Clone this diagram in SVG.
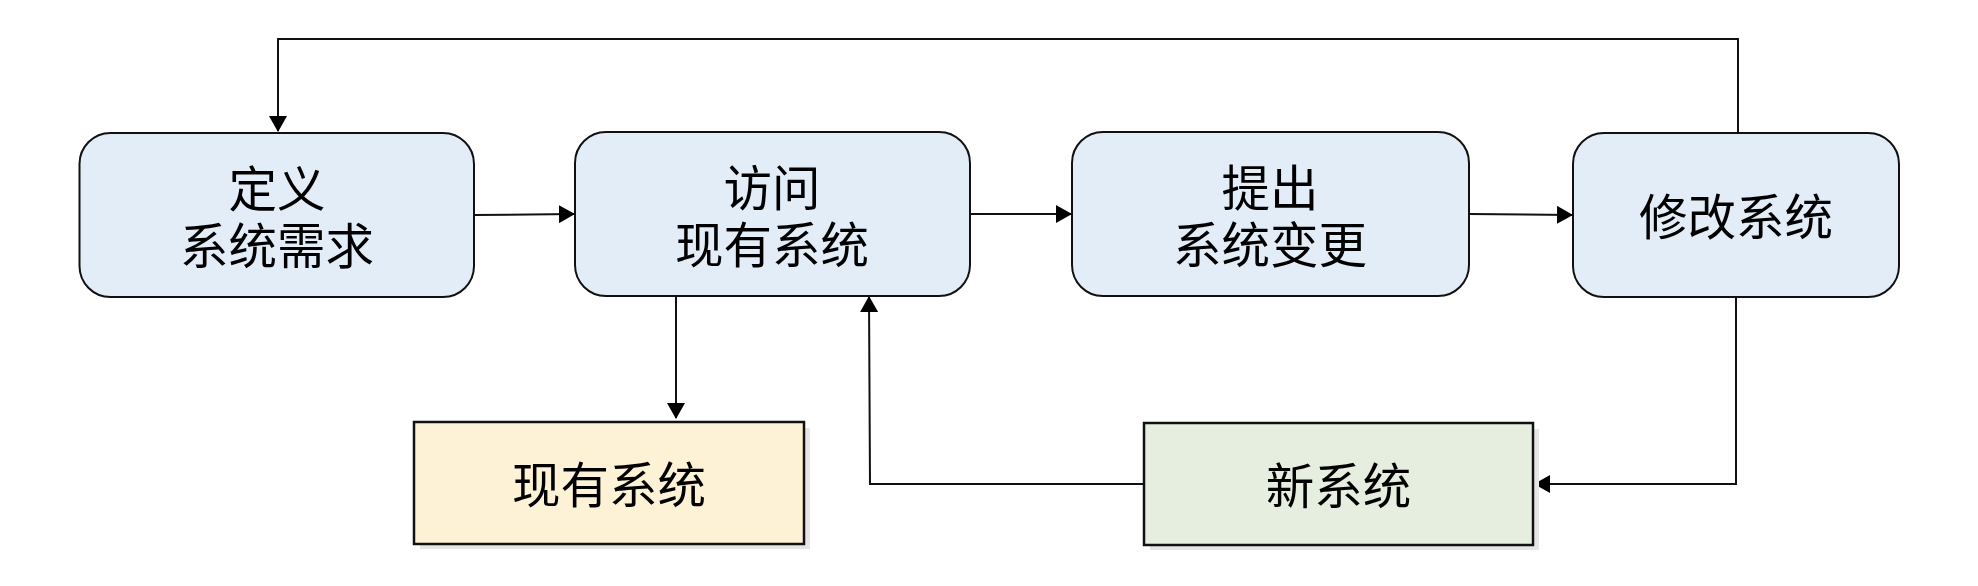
<svg xmlns="http://www.w3.org/2000/svg" width="1978" height="586" viewBox="0 0 1978 586">
<style>
.proc{fill:#e3edf7;stroke:#111;stroke-width:2}
.box{stroke:#111;stroke-width:2.5}
.shadow{fill:#e6e6e6}
.t{font-family:"Noto Sans CJK SC","Noto Sans",sans-serif;font-size:48.5px;fill:#000;text-anchor:middle}
.c{fill:none;stroke:#111;stroke-width:2}
</style>
<defs>
<marker id="ah" markerUnits="userSpaceOnUse" markerWidth="16" markerHeight="18" viewBox="0 0 16 18" refX="15" refY="9" orient="auto">
<path d="M0,0 L16,9 L0,18 Z" fill="#000"/>
</marker>
</defs>
<rect width="1978" height="586" fill="#fff"/>
<g id="connectors">
<polyline class="c" points="1738,133 1738,39 278,39 278,131" marker-end="url(#ah)"/>
<line class="c" x1="474" y1="215" x2="574" y2="214" marker-end="url(#ah)"/>
<line class="c" x1="970" y1="214" x2="1071" y2="214" marker-end="url(#ah)"/>
<line class="c" x1="1469" y1="214" x2="1572" y2="215" marker-end="url(#ah)"/>
<line class="c" x1="676" y1="296" x2="676" y2="418" marker-end="url(#ah)"/>
<polyline class="c" points="1736,297 1736,484 1535,484" marker-end="url(#ah)"/>
<polyline class="c" points="1144,484 870,484 869,297" marker-end="url(#ah)"/>
</g>
<g id="n1">
<rect class="proc" x="79.5" y="133" width="394.5" height="164" rx="31" ry="31"/>
<text class="t" x="277" y="207">定义<tspan x="277" dy="57">系统需求</tspan></text>
</g>
<g id="n2">
<rect class="proc" x="575" y="132" width="395" height="164" rx="31" ry="31"/>
<text class="t" x="772" y="206">访问<tspan x="772" dy="57">现有系统</tspan></text>
</g>
<g id="n3">
<rect class="proc" x="1072" y="132" width="397" height="164" rx="31" ry="31"/>
<text class="t" x="1270" y="206">提出<tspan x="1270" dy="57">系统变更</tspan></text>
</g>
<g id="n4">
<rect class="proc" x="1573" y="133" width="326" height="164" rx="31" ry="31"/>
<text class="t" x="1736" y="235">修改系统</text>
</g>
<g id="n5">
<rect class="shadow" x="420" y="428" width="390" height="121"/>
<rect class="box" x="414" y="422" width="390" height="122" fill="#fdf2d6"/>
<text class="t" x="609" y="503">现有系统</text>
</g>
<g id="n6">
<rect class="shadow" x="1150" y="429" width="389" height="121"/>
<rect class="box" x="1144" y="423" width="389" height="122" fill="#e6efdf"/>
<text class="t" x="1338.5" y="504">新系统</text>
</g>
</svg>
